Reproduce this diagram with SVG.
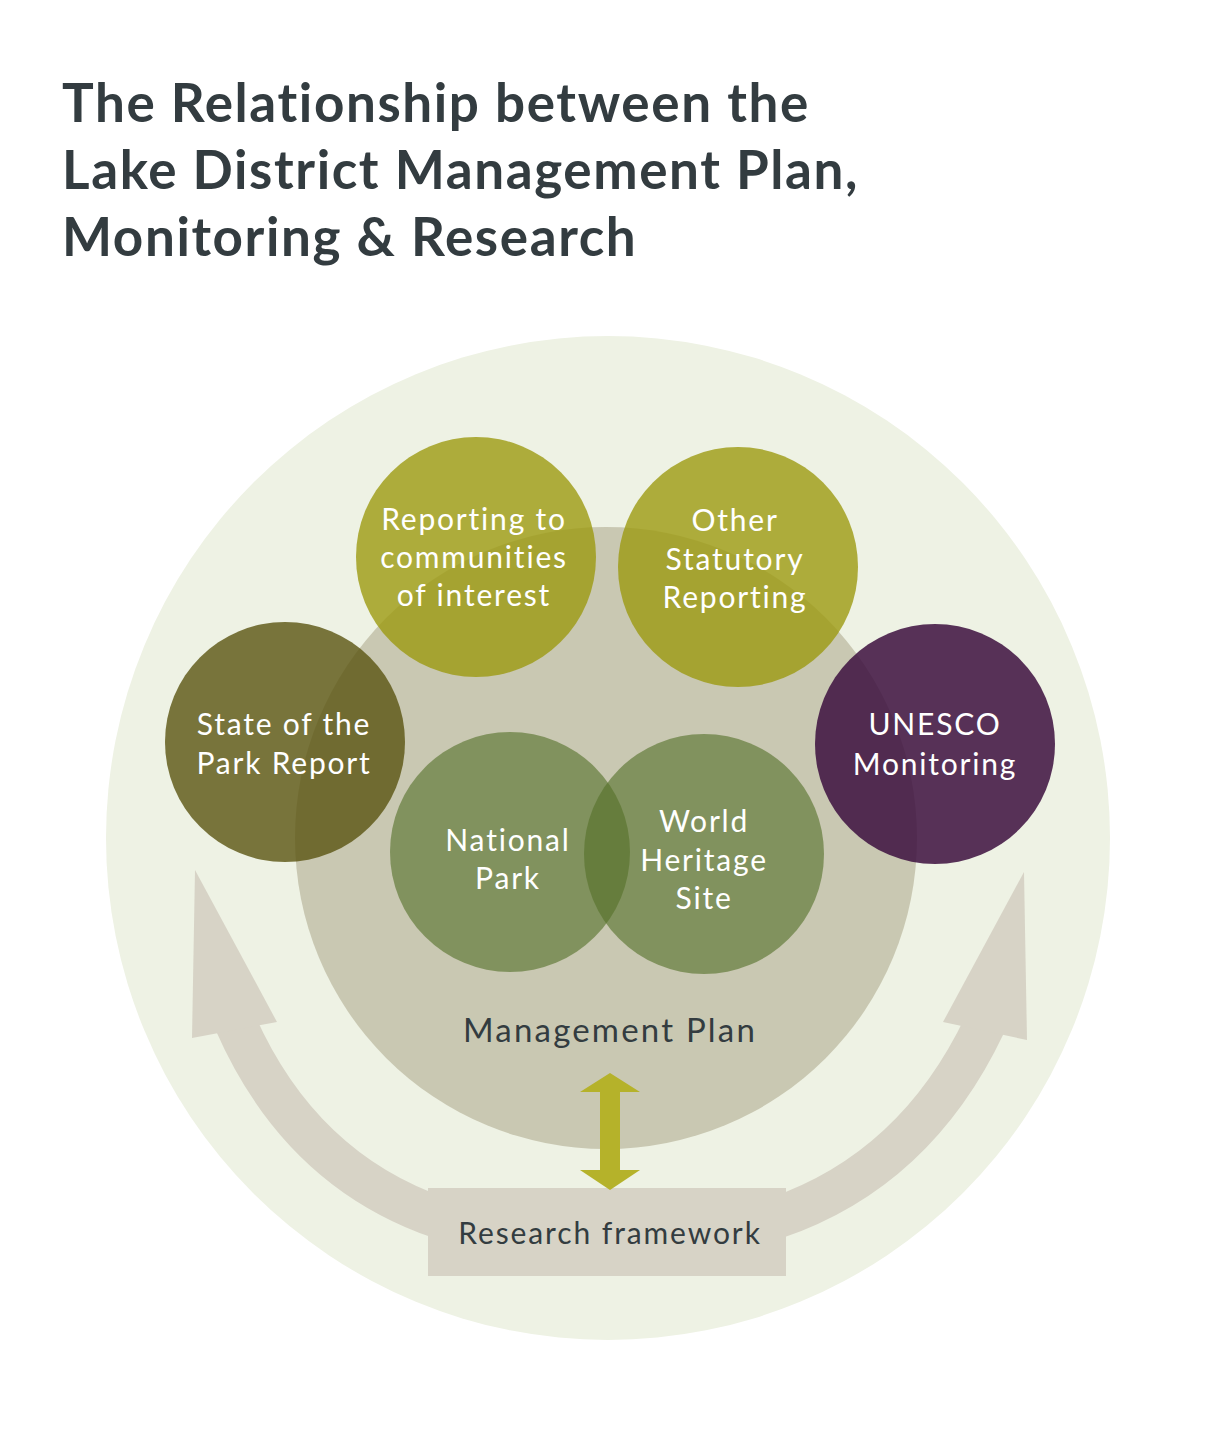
<svg xmlns="http://www.w3.org/2000/svg" width="1218" height="1431" viewBox="0 0 1218 1431">
<style>
.t{font-family:Lato,"Open Sans",sans-serif;font-size:30px;fill:#ffffff;text-anchor:middle;letter-spacing:1.8px}
.d{font-family:Lato,"Open Sans",sans-serif;font-size:33px;fill:#333c40;text-anchor:middle;letter-spacing:2.2px}
.h{font-family:Lato,"Open Sans",sans-serif;font-size:53px;font-weight:bold;fill:#333c40;letter-spacing:1.6px}
</style>
<rect width="1218" height="1431" fill="#ffffff"/>
<text class="h" x="62" y="122">The Relationship between the</text>
<text class="h" x="62" y="189">Lake District Management Plan,</text>
<text class="h" x="62" y="256">Monitoring &amp; Research</text>
<g id="outer"><circle cx="608" cy="838" r="502" fill="#eef2e4"/></g>
<g id="connectors">
<path d="M440 1218 Q300 1170 235 1022" fill="none" stroke="#d7d3c6" stroke-width="42"/>
<polygon points="195,870 277,1022 192,1038" fill="#d7d3c6"/>
<path d="M776 1218 Q916 1170 985 1024" fill="none" stroke="#d7d3c6" stroke-width="42"/>
<polygon points="1024,872 1027,1040 943,1022" fill="#d7d3c6"/>
</g>
<g id="mgmt"><circle cx="606" cy="838" r="311" fill="#c9c8b2"/>
<text class="d" x="610" y="1042">Management Plan</text></g>
<g id="np"><circle cx="510" cy="852" r="120" fill="#56712a" fill-opacity="0.62"/></g>
<g id="whs"><circle cx="704" cy="854" r="120" fill="#56712a" fill-opacity="0.62"/></g>
<text class="t" x="508" y="851">National</text><text class="t" x="508" y="889">Park</text>
<text class="t" x="704" y="832">World</text><text class="t" x="704" y="871">Heritage</text><text class="t" x="704" y="909">Site</text>
<g id="rep"><circle cx="476" cy="557" r="120" fill="#9c9a10" fill-opacity="0.8"/>
<text class="t" x="474" y="530">Reporting to</text><text class="t" x="474" y="568">communities</text><text class="t" x="474" y="606">of interest</text></g>
<g id="other"><circle cx="738" cy="567" r="120" fill="#9c9a10" fill-opacity="0.8"/>
<text class="t" x="735" y="531">Other</text><text class="t" x="735" y="570">Statutory</text><text class="t" x="735" y="608">Reporting</text></g>
<g id="state"><circle cx="285" cy="742" r="120" fill="#5a5410" fill-opacity="0.8"/>
<text class="t" x="284" y="735">State of the</text><text class="t" x="284" y="774">Park Report</text></g>
<g id="unesco"><circle cx="935" cy="744" r="120" fill="#3c0f3e" fill-opacity="0.85"/>
<text class="t" x="935" y="735">UNESCO</text><text class="t" x="935" y="775">Monitoring</text></g>
<g id="research"><rect x="428" y="1188" width="358" height="88" fill="#d7d3c6"/>
<text class="d" x="610" y="1244" style="font-size:30px;letter-spacing:1.9px">Research framework</text></g>
<g id="dbl"><polygon points="610,1073 640,1092 620,1092 620,1170 640,1170 610,1190 580,1170 600,1170 600,1092 580,1092" fill="#b5b22a"/></g>
</svg>
